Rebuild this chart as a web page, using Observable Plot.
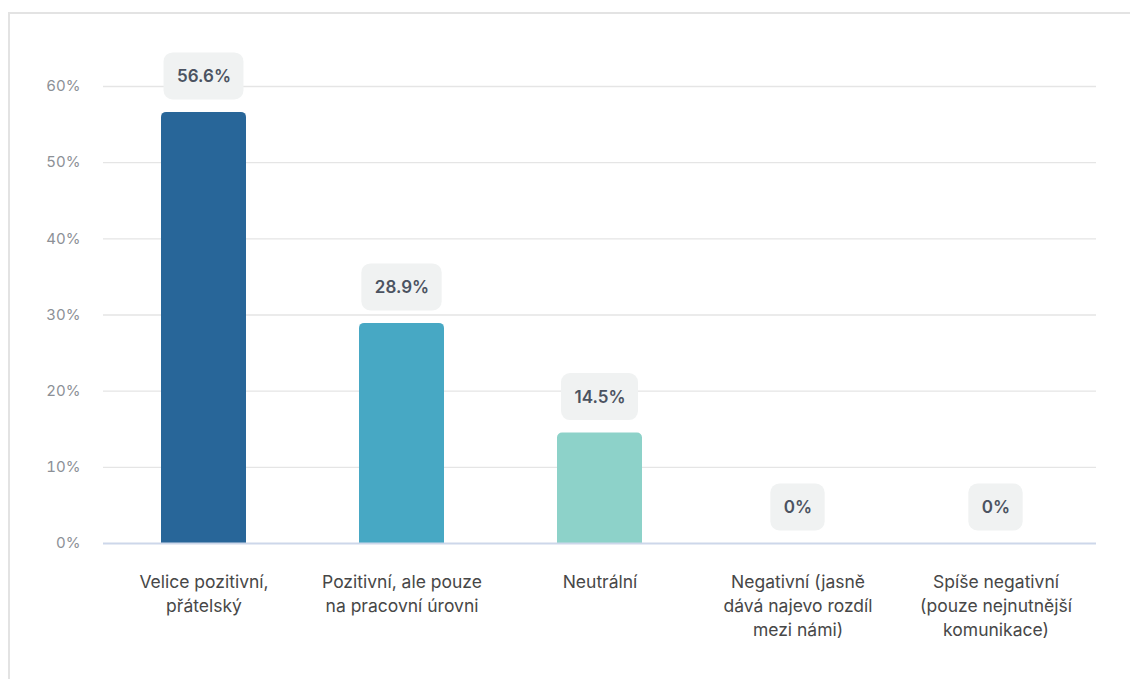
<!DOCTYPE html>
<html>
<head>
<meta charset="utf-8">
<script src="https://cdn.jsdelivr.net/npm/d3@7"></script>
<script src="https://cdn.jsdelivr.net/npm/@observablehq/plot@0.6"></script>
<style>
  html, body { margin: 0; padding: 0; background: #fff; overflow: hidden; width: 1130px; height: 679px; }
  #card { position: absolute; left: 8px; top: 12px; width: 3000px; height: 3000px; border: 2px solid #e3e3e3; box-sizing: border-box; }
  #chart { position: absolute; left: 0; top: 0; }
  svg { font-family: Inter, "Noto Sans", sans-serif; overflow: visible; }
</style>
</head>
<body>
<div id="card"></div>
<div id="chart"></div>
<script>
const categories = [
  "Velice pozitivní,\npřátelský",
  "Pozitivní, ale pouze\nna pracovní úrovni",
  "Neutrální",
  "Negativní (jasně\ndává najevo rozdíl\nmezi námi)",
  "Spíše negativní\n(pouze nejnutnější\nkomunikace)"
];
const values = [56.6, 28.9, 14.5, 0, 0];
const labels = ["56.6%", "28.9%", "14.5%", "0%", "0%"];
const colors = ["#286699", "#47a8c4", "#8dd2c9", "#b5e3d8", "#d5efe6"];
const yTicks = [0, 10, 20, 30, 40, 50, 60];

const data = categories.map((c, i) => ({cat: c, value: values[i], label: labels[i], color: colors[i]}));

const LABEL_FONT = "600 17px Inter, 'Noto Sans', sans-serif";
const ctx2d = document.createElement("canvas").getContext("2d");
ctx2d.font = LABEL_FONT;

// custom mark: rounded boxes behind value labels, positioned via the Plot scales
function labelBoxes(index, scales, values_, dimensions) {
  const g = d3.create("svg:g").attr("aria-label", "label boxes");
  const bw = scales.x.bandwidth();
  for (const d of data) {
    const cx = scales.x(d.cat) + bw / 2;
    const cy = scales.y(d.value) - 36;
    const w = ctx2d.measureText(d.label).width + 26;
    const h = 47;
    g.append("rect")
      .attr("x", cx - w / 2).attr("y", cy - h / 2)
      .attr("width", w).attr("height", h)
      .attr("rx", 9).attr("fill", "#f0f2f2");
  }
  return g.node();
}

const chart = Plot.plot({
  width: 1130,
  height: 679,
  marginLeft: 103,
  marginRight: 34,
  marginTop: 86,
  marginBottom: 136,
  style: {fontFamily: "Inter, 'Noto Sans', sans-serif", overflow: "visible"},
  x: {domain: categories, paddingInner: 0.573, paddingOuter: 0.2865, label: null},
  y: {domain: [0, 60], label: null},
  marks: [
    Plot.gridY(yTicks.filter(d => d > 0), {stroke: "#e5e5e5", strokeOpacity: 1, strokeWidth: 1.3}),
    Plot.barY(data, {x: "cat", y: "value", fill: "color", ry1: 5}),
    Plot.ruleY([0], {stroke: "#cdd7ea", strokeWidth: 2}),
    Plot.axisY({ticks: yTicks, tickSize: 0, tickPadding: 23, tickFormat: d => d + "%", fontSize: 15, fill: "#8c9096"}),
    Plot.axisX({tickSize: 0, tickPadding: 28, lineHeight: 1.35, fontSize: 17.5, fill: "#474747"}),
    labelBoxes,
    Plot.text(data, {x: "cat", y: "value", text: "label", dy: -36, lineAnchor: "middle", fontSize: 17, fontWeight: 600, fill: "#4b5361"})
  ]
});

document.getElementById("chart").append(chart);
</script>
</body>
</html>
